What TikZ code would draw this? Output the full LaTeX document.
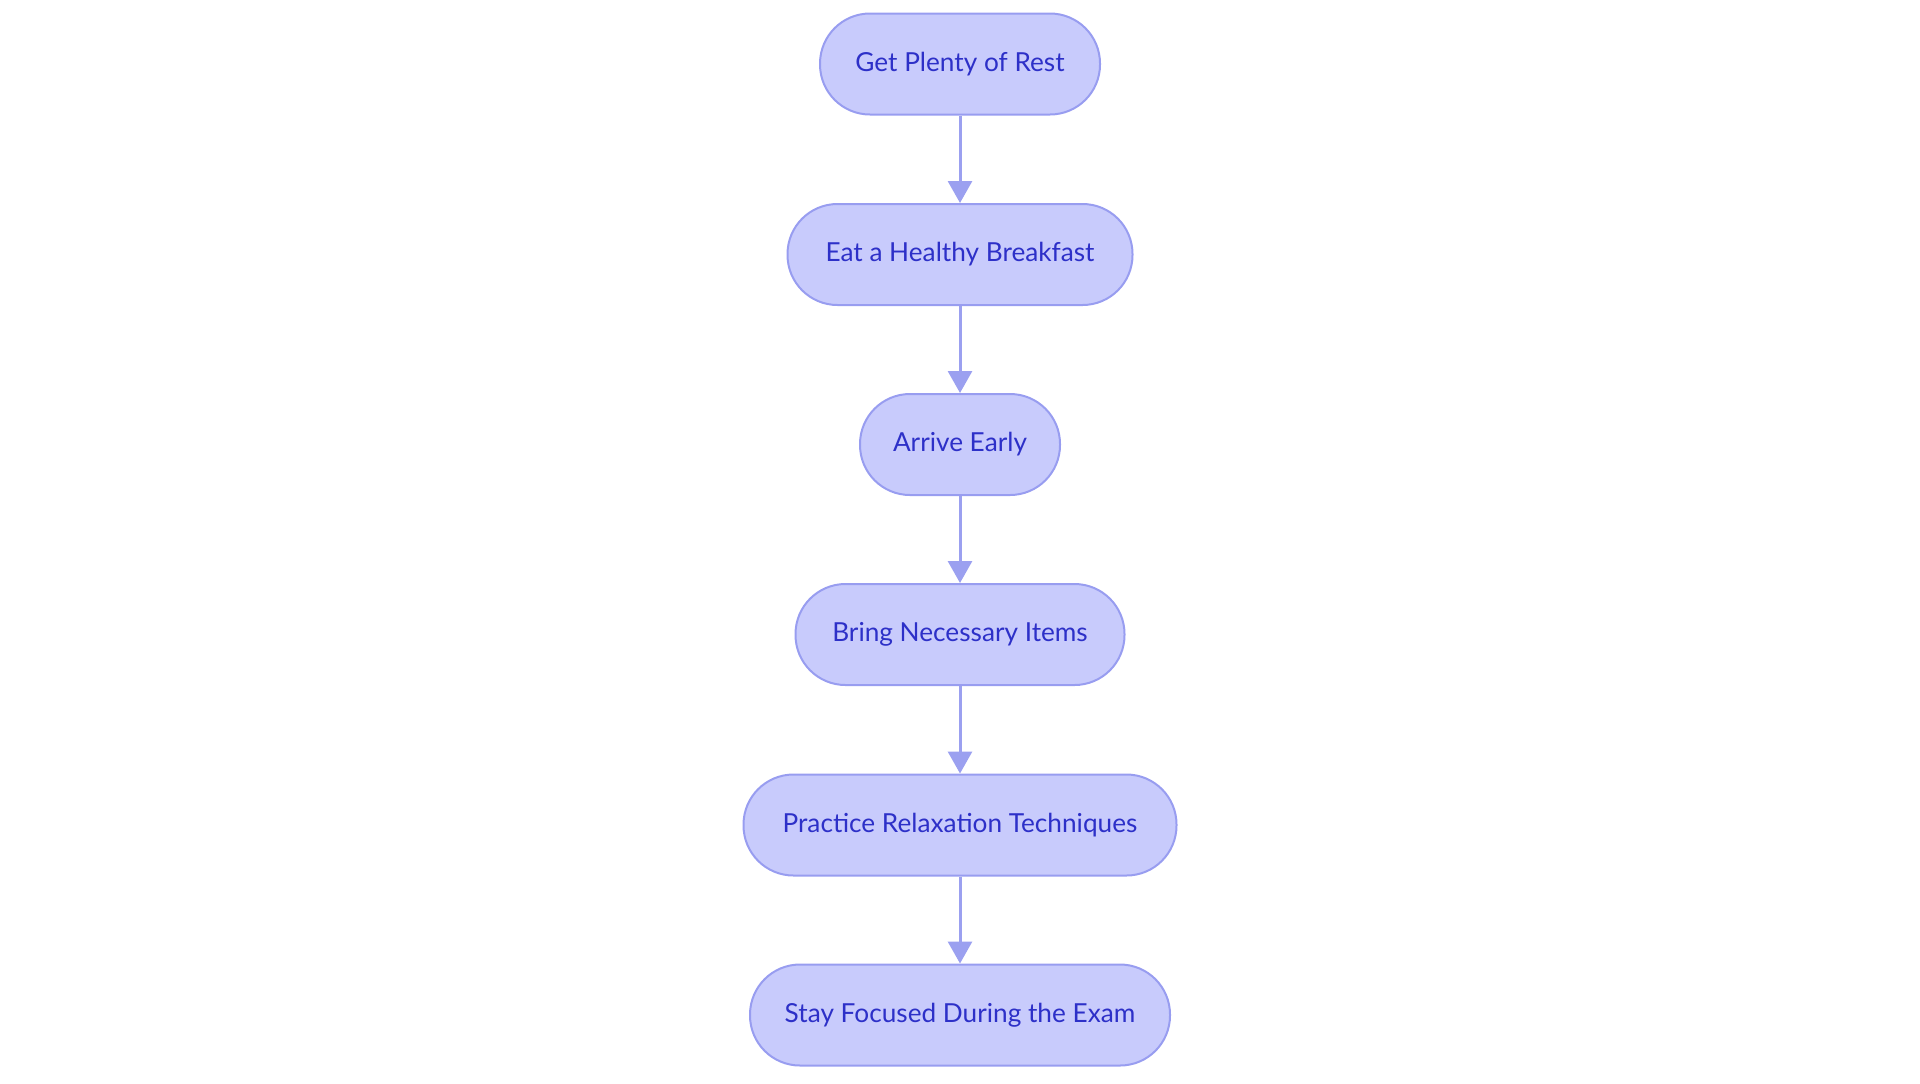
\documentclass[tikz,border=0pt]{standalone}
\usepackage{fontspec}
\setmainfont{Lato}
\usetikzlibrary{arrows.meta}
\definecolor{nodefill}{RGB}{200,203,252}
\definecolor{nodeline}{RGB}{152,157,240}
\definecolor{arrowcol}{RGB}{155,160,240}
\definecolor{textcol}{RGB}{45,48,200}
\tikzset{
  stepbox/.style={draw=nodeline, fill=nodefill, line width=1pt, rounded corners=25pt,
    minimum height=50.5pt, inner sep=0pt, text=textcol,
    font=\fontsize{13.1}{16}\selectfont},
  flowarrow/.style={draw=arrowcol, line width=1.5pt,
    -{Triangle[length=11pt,width=12pt]}, shorten >=0pt}
}
\begin{document}
\begin{tikzpicture}[x=0.5pt,y=-0.5pt]
\useasboundingbox (0,0) rectangle (1920,1083);
\node[stepbox, minimum width=140pt] (n1) at (960,64) {\raisebox{-0.5pt}{Get Plenty of Rest}};
\node[stepbox, minimum width=172.5pt] (n2) at (960,254.5) {\raisebox{-0.5pt}{Eat a Healthy Breakfast}};
\node[stepbox, minimum width=100pt] (n3) at (960,444.5) {\raisebox{-0.5pt}{Arrive Early}};
\node[stepbox, minimum width=164.5pt] (n4) at (960,634.5) {\raisebox{-0.5pt}{Bring Necessary Items}};
\node[stepbox, minimum width=216.5pt] (n5) at (960,825) {\raisebox{-0.5pt}{Practice Relaxation Techniques}};
\node[stepbox, minimum width=210pt] (n6) at (960,1015) {\raisebox{-0.5pt}{Stay Focused During the Exam}};
\draw[flowarrow] (n1) -- (n2);
\draw[flowarrow] (n2) -- (n3);
\draw[flowarrow] (n3) -- (n4);
\draw[flowarrow] (n4) -- (n5);
\draw[flowarrow] (n5) -- (n6);
\end{tikzpicture}
\end{document}
